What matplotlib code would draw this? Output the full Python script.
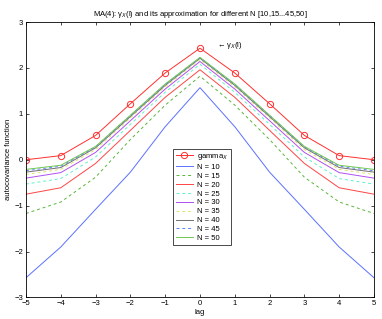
import matplotlib
matplotlib.use("Agg")
import matplotlib.pyplot as plt
import numpy as np

plt.rcParams['font.family'] = ['Liberation Sans', 'DejaVu Sans']
plt.rcParams['mathtext.fontset'] = 'custom'
plt.rcParams['mathtext.rm'] = 'Liberation Sans'
plt.rcParams['mathtext.it'] = 'Liberation Sans:italic'

lags = [-5, -4, -3, -2, -1, 0, 1, 2, 3, 4, 5]

def sym(half):
    # half: values for lag 0..5
    return half[:0:-1] + half

gamma_x = sym([2.43, 1.89, 1.22, 0.53, 0.09, 0.00])
n10 = sym([1.57, 0.72, -0.27, -1.08, -1.90, -2.57])
n15 = sym([1.82, 1.19, 0.44, -0.38, -0.92, -1.17])
n20 = sym([1.96, 1.36, 0.64, -0.08, -0.61, -0.75])
n25 = sym([2.08, 1.47, 0.77, 0.06, -0.41, -0.53])
n30 = sym([2.14, 1.54, 0.85, 0.16, -0.28, -0.40])
n35 = sym([2.18, 1.59, 0.91, 0.22, -0.21, -0.32])
n40 = sym([2.21, 1.62, 0.94, 0.26, -0.17, -0.27])
n45 = sym([2.22, 1.64, 0.96, 0.28, -0.14, -0.24])
n50 = sym([2.23, 1.65, 0.97, 0.29, -0.12, -0.21])

series = [n10, n15, n20, n25, n30, n35, n40, n45, n50]
labels = ['N = 10', 'N = 15', 'N = 20', 'N = 25', 'N = 30', 'N = 35',
          'N = 40', 'N = 45', 'N = 50']
colors = ['#5a70ff', '#5ab53a', '#ff4545', '#60f0c8', '#b050f0', '#e2e270',
          '#707070', '#6080ff', '#6cc850']
styles = ['-', '--', '-', '--', '-', '--', '-', '--', '-']

fig = plt.figure(figsize=(3.82, 3.19), dpi=100)
ax = fig.add_axes([0.068, 0.0674, 0.911, 0.8636])

lw = 0.7
ax.plot(lags, gamma_x, color='#ff3030', lw=lw, marker='o', ms=4.5,
        mfc='none', mec='#ff3030', mew=0.7, label=r'gamma$_X$')
for s, lab, c, st in zip(series, labels, colors, styles):
    ax.plot(lags, s, color=c, ls=st, lw=lw, label=lab,
            dashes=(3, 3) if st == '--' else (None, None))

ax.set_xlim(-5, 5)
ax.set_ylim(-3, 3)
ax.set_xticks(range(-5, 6))
ax.set_yticks(range(-3, 4))
ax.tick_params(direction='in', length=2.5, width=0.5, labelsize=5.5,
               top=True, right=True, pad=2)
for sp in ax.spines.values():
    sp.set_linewidth(0.6)

ax.set_title(r'MA(4): γ$_X$(l) and its approximation for different N [10,15...45,50]',
             fontsize=5.5, pad=4)
ax.set_xlabel('lag', fontsize=5.5, labelpad=1)
ax.set_ylabel('autocovariance function', fontsize=5.5, labelpad=2)

ax.text(0.49, 2.48, r'← γ$_X$(l)', fontsize=5.5, va='center', ha='left')

leg = ax.legend(loc='upper left', bbox_to_anchor=(0.422, 0.539), borderaxespad=0,
                fontsize=5.5, handlelength=2.2, handletextpad=0.5,
                labelspacing=0.2, borderpad=0.4, fancybox=False,
                framealpha=1, edgecolor='black')
leg.get_frame().set_linewidth(0.5)

fig.savefig('out.png', dpi=100)
